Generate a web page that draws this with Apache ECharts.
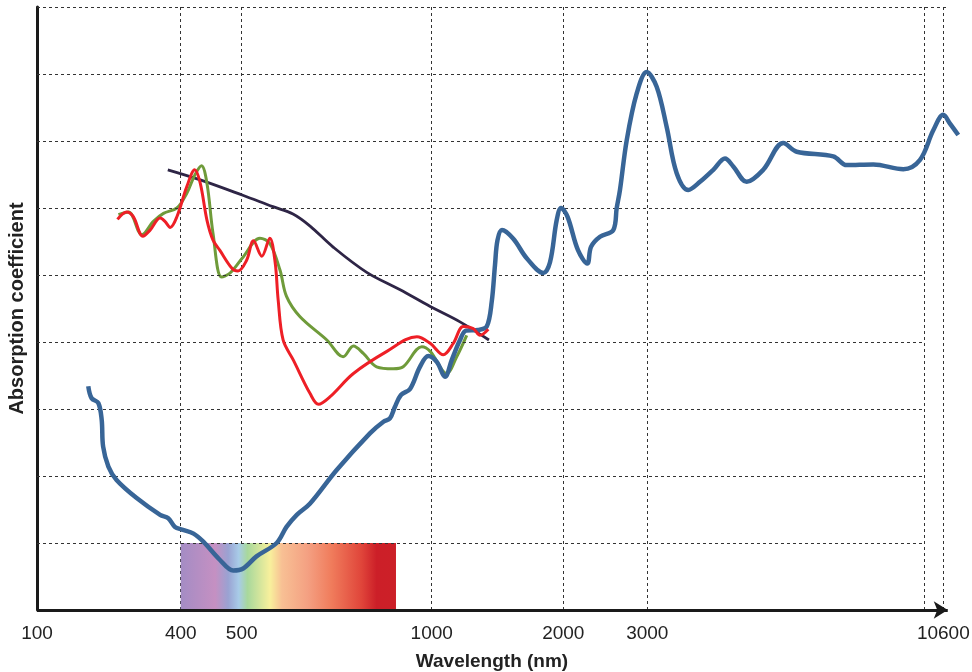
<!DOCTYPE html>
<html>
<head>
<meta charset="utf-8">
<title>Absorption coefficient vs wavelength</title>
<script src="https://cdn.jsdelivr.net/npm/echarts@6/dist/echarts.min.js"></script>
<style>
    html, body { margin: 0; padding: 0; background: #fff; }
    #chart { width: 972px; height: 672px; }
</style>
</head>
<body>
<div id="chart"></div>
<script>
// *******Data*******
// wavelength (nm) tick labels of the x axis
var tickWavelengths = [100, 400, 500, 1000, 2000, 3000, 10600];

// curves as [wavelength nm, absorption (relative units)]
var waterCurve = [
    [207, 3.34], [214, 3.16], [228, 3.09], [235, 2.84], [238, 2.44], [249, 2.14], [266, 1.94], [308, 1.67],
    [357, 1.42], [374, 1.37], [388, 1.24], [402, 1.20], [421, 1.14], [437, 1.02], [464, 0.75], [486, 0.59],
    [504, 0.62], [539, 0.80], [592, 1.00], [618, 1.24], [645, 1.42], [680, 1.59], [750, 2.09], [838, 2.64],
    [873, 2.81], [890, 2.86], [903, 3.03], [919, 3.21], [943, 3.30], [969, 3.63], [991, 3.79], [1040, 3.70],
    [1101, 3.48], [1152, 3.73], [1215, 4.03], [1261, 4.17], [1352, 4.18], [1418, 4.23], [1456, 4.60], [1481, 5.15],
    [1500, 5.52], [1534, 5.67], [1620, 5.54], [1722, 5.25], [1848, 5.03], [1899, 5.19], [1950, 5.82], [1983, 6.00],
    [2050, 5.87], [2175, 5.37], [2286, 5.17], [2330, 5.42], [2437, 5.57], [2595, 5.67], [2636, 6.00], [2675, 6.27],
    [2755, 7.01], [2874, 7.71], [2993, 8.03], [3241, 7.81], [3498, 7.21], [3755, 6.52], [4053, 6.27], [4353, 6.39],
    [4695, 6.57], [4995, 6.74], [5208, 6.62], [5552, 6.39], [5978, 6.57], [6492, 6.97], [6836, 6.84], [7776, 6.77],
    [8120, 6.64], [8803, 6.65], [9573, 6.58], [10002, 6.72], [10343, 7.16], [10600, 7.39], [10772, 7.26], [10985, 7.09]
];
var oxyHbCurve = [
    [268, 5.83], [287, 5.94], [301, 5.87], [321, 5.58], [336, 5.67], [357, 5.85], [367, 5.80], [378, 5.71],
    [392, 5.87], [410, 6.32], [423, 6.57], [432, 6.37], [443, 5.82], [453, 5.52], [464, 5.37], [484, 5.10],
    [494, 5.06], [513, 5.22], [531, 5.51], [553, 5.28], [574, 5.55], [588, 5.19], [596, 4.63], [609, 4.03],
    [636, 3.73], [680, 3.23], [702, 3.07], [732, 3.18], [794, 3.53], [882, 3.86], [961, 4.08], [996, 3.98],
    [1088, 3.81], [1164, 3.98], [1240, 4.23], [1316, 4.20], [1367, 4.10], [1430, 4.19]
];
var deoxyHbCurve = [
    [270, 5.90], [291, 5.94], [319, 5.60], [343, 5.80], [364, 5.92], [392, 6.00], [410, 6.22], [423, 6.49],
    [434, 6.63], [443, 6.37], [453, 5.62], [467, 4.97], [481, 5.03], [504, 5.27], [548, 5.55], [574, 5.47],
    [601, 5.07], [618, 4.68], [653, 4.38], [724, 4.03], [767, 3.78], [794, 3.94], [820, 3.83], [855, 3.63],
    [899, 3.60], [925, 3.63], [974, 3.93], [996, 3.86], [1114, 3.53], [1190, 3.78], [1266, 4.10]
];
var melaninCurve = [
    [373, 6.57], [432, 6.42], [503, 6.19], [582, 6.02], [635, 5.91], [680, 5.73], [740, 5.42], [829, 5.04],
    [917, 4.78], [996, 4.53], [1215, 4.30], [1435, 4.03]
];

// visible spectrum band drawn under the curves
var spectrumRange = [400, 906];
var spectrumHeight = 1;

// horizontal grid rows of the y axis
var yGridValues = [1, 2, 3, 4, 5, 6, 7, 8, 9];

// *******Scale*******
// the x axis is not linear: each labelled wavelength sits at its own axis position
var tickPositions = [0, 15.83, 22.54, 43.47, 57.96, 67.21, 99.81];
var gridEdgePosition = 97.69;   // right border of the dashed grid
var topLineEnd = 100.3;         // top grid line runs a bit further
var axisArrowEnd = 100.3;       // end of the x axis line (arrow tip)
var xAxisMax = 101.87;          // room for the tail of the water curve

function wlToPos(wl) {
    var n = tickWavelengths.length;
    var i = 0;
    while (i < n - 2 && wl > tickWavelengths[i + 1]) {
        i++;
    }
    var w0 = tickWavelengths[i], w1 = tickWavelengths[i + 1];
    var p0 = tickPositions[i], p1 = tickPositions[i + 1];
    return p0 + (wl - w0) / (w1 - w0) * (p1 - p0);
}

function toSeriesData(curve) {
    return curve.map(function (pt) {
        return [wlToPos(pt[0]), pt[1]];
    });
}

function wlLabel(value) {
    for (var i = 0; i < tickPositions.length; i++) {
        if (Math.abs(tickPositions[i] - value) < 0.01) {
            return String(tickWavelengths[i]);
        }
    }
    return '';
}

var FONT = '"Liberation Sans", Arial, Helvetica, sans-serif';
var dashStyle = { color: '#333', width: 1, type: [3, 3] };
var axisColor = '#1a1a1a';

// horizontal dashed grid lines, built from the y grid values
var rowLines = yGridValues.map(function (v, idx) {
    var end = (idx === yGridValues.length - 1) ? topLineEnd : gridEdgePosition;
    return [{ coord: [0, v] }, { coord: [end, v] }];
});

var chart = echarts.init(document.getElementById('chart'), null, { renderer: 'canvas' });

var spectrumGradient = new echarts.graphic.LinearGradient(0, 0, 1, 0, [
    { offset: 0.00, color: '#a48cc4' },
    { offset: 0.16, color: '#c590c2' },
    { offset: 0.22, color: '#9aa2d2' },
    { offset: 0.27, color: '#a8cce8' },
    { offset: 0.31, color: '#a8d89c' },
    { offset: 0.415, color: '#f8f09c' },
    { offset: 0.47, color: '#f8c094' },
    { offset: 0.59, color: '#f4a082' },
    { offset: 0.70, color: '#f07c5c' },
    { offset: 0.84, color: '#e0453a' },
    { offset: 0.91, color: '#cc1f28' },
    { offset: 1.00, color: '#cc2028' }
]);

var option = {
    backgroundColor: '#fff',
    animation: false,
    grid: {
        left: 37,
        right: 10,
        top: 7,
        bottom: 62,
        containLabel: false,
        outerBoundsMode: 'none'
    },
    xAxis: {
        type: 'value',
        min: 0,
        max: xAxisMax,
        name: 'Wavelength (nm)',
        nameLocation: 'middle',
        nameGap: 42,
        nameTextStyle: {
            fontFamily: FONT, fontWeight: 'bold', fontSize: 19, color: '#222',
            padding: [0, 15, 0, 0]
        },
        axisLine: { show: false },
        axisTick: {
            show: false,
            customValues: tickPositions.slice(1).concat([gridEdgePosition])
        },
        axisLabel: {
            customValues: tickPositions,
            formatter: wlLabel,
            margin: 14,
            fontFamily: FONT,
            fontSize: 19,
            color: '#222'
        },
        splitLine: { show: true, lineStyle: dashStyle }
    },
    yAxis: {
        type: 'value',
        min: 0,
        max: 9,
        interval: 1,
        name: 'Absorption coefficient',
        nameLocation: 'middle',
        nameRotate: 90,
        nameGap: 10,
        nameTextStyle: { fontFamily: FONT, fontWeight: 'bold', fontSize: 20, color: '#222' },
        axisLine: { show: true, lineStyle: { color: axisColor, width: 3 } },
        axisTick: { show: false },
        axisLabel: { show: false },
        splitLine: { show: false }
    },
    series: [
        {
            name: 'Grid rows',
            type: 'line',
            data: [],
            z: -2,
            silent: true,
            markLine: {
                silent: true,
                animation: false,
                symbol: ['none', 'none'],
                label: { show: false },
                lineStyle: dashStyle,
                emphasis: { disabled: true },
                data: rowLines
            }
        },
        {
            name: 'Spectrum',
            type: 'line',
            data: [],
            z: -1,
            silent: true,
            markArea: {
                silent: true,
                itemStyle: { color: spectrumGradient, opacity: 1 },
                data: [[
                    { coord: [wlToPos(spectrumRange[0]), 0] },
                    { coord: [wlToPos(spectrumRange[1]), spectrumHeight] }
                ]]
            }
        },
        {
            name: 'Melanin',
            type: 'line',
            data: toSeriesData(melaninCurve),
            smooth: 0.35,
            showSymbol: false,
            z: 3,
            lineStyle: { color: '#2e2546', width: 2.8 }
        },
        {
            name: 'Deoxyhemoglobin',
            type: 'line',
            data: toSeriesData(deoxyHbCurve),
            smooth: 0.35,
            showSymbol: false,
            z: 4,
            lineStyle: { color: '#6f9b3a', width: 3 }
        },
        {
            name: 'Water',
            type: 'line',
            data: toSeriesData(waterCurve),
            smooth: 0.35,
            showSymbol: false,
            z: 5,
            lineStyle: { color: '#386597', width: 4.5 }
        },
        {
            name: 'Oxyhemoglobin',
            type: 'line',
            data: toSeriesData(oxyHbCurve),
            smooth: 0.35,
            showSymbol: false,
            z: 6,
            lineStyle: { color: '#ee1f26', width: 3 }
        },
        {
            name: 'X axis',
            type: 'line',
            data: [],
            z: 10,
            silent: true,
            markLine: {
                silent: true,
                animation: false,
                symbol: ['none', 'arrow'],
                symbolSize: [13, 14],
                label: { show: false },
                lineStyle: { color: axisColor, width: 3, type: 'solid' },
                emphasis: { disabled: true },
                data: [[{ coord: [0, 0] }, { coord: [axisArrowEnd, 0] }]]
            }
        }
    ]
};

chart.setOption(option);
</script>
</body>
</html>
